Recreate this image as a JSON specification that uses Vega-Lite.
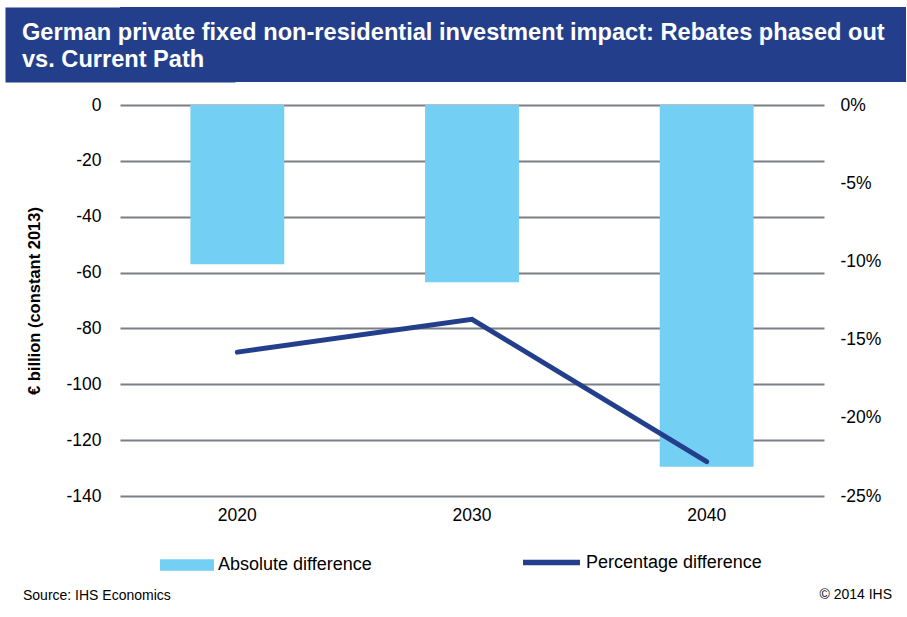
{
  "$schema": "https://vega.github.io/schema/vega-lite/v6.json",
  "background": "white",
  "padding": {"left": 6, "top": 7, "right": 0, "bottom": 0},
  "config": {
    "font": "Liberation Sans",
    "view": {"stroke": null},
    "locale": {"number": {"decimal": ".", "thousands": ",", "grouping": [3], "currency": ["$", ""], "minus": "-"}}
  },
  "title": {"text": "© 2014 IHS", "orient": "bottom", "anchor": "end", "fontSize": 14, "fontWeight": "normal", "color": "#000000", "offset": -15, "dx": -14},
  "spacing": 14,
  "vconcat": [
    {
      "width": 786,
      "height": 75,
      "view": {"fill": "#233F8C", "stroke": null},
      "data": {"values": [{}]},
      "mark": {"type": "rect", "opacity": 0},
      "encoding": {
        "y": {
          "datum": 0,
          "type": "quantitative",
          "scale": {"domain": [0, 1]},
          "axis": {"title": null, "labels": false, "ticks": false, "grid": false, "domainWidth": 230, "domainColor": "#233F8C", "domainCap": "butt"}
        }
      },
      "title": {
        "text": ["German private fixed non-residential investment impact: Rebates phased out", "vs. Current Path"],
        "orient": "top",
        "anchor": "start",
        "frame": "group",
        "baseline": "top",
        "offset": -65,
        "dx": -98,
        "fontSize": 23.6,
        "fontWeight": "bold",
        "color": "#FFFFFF",
        "lineHeight": 27
      }
    },
    {
      "width": 704,
      "height": 391,
      "data": {"values": [
        {"year": "2020", "abs": -57, "pct": -0.158},
        {"year": "2030", "abs": -63.5, "pct": -0.137},
        {"year": "2040", "abs": -129.5, "pct": -0.228}
      ]},
      "title": {"text": "Source: IHS Economics", "orient": "bottom", "anchor": "start", "fontSize": 14, "fontWeight": "normal", "color": "#000000", "offset": 65, "dx": 16},
      "encoding": {
        "x": {
          "field": "year",
          "type": "nominal",
          "scale": {"paddingInner": 0.6, "paddingOuter": 0.3},
          "axis": {"title": null, "labelAngle": 0, "labelFontSize": 17.5, "labelColor": "#000000", "labelPadding": 10, "ticks": false, "domain": false, "grid": false}
        }
      },
      "layer": [
        {
          "mark": {"type": "bar", "color": "#74CFF4"},
          "encoding": {
            "y": {
              "field": "abs",
              "type": "quantitative",
              "scale": {"domain": [-140, 0], "nice": false},
              "axis": {
                "title": ["", "€ billion (constant 2013)"],
                "titleLineHeight": 20,
                "values": [0, -20, -40, -60, -80, -100, -120, -140],
                "grid": true,
                "gridColor": "#7a7f85",
                "gridWidth": 2,
                "domain": false,
                "ticks": false,
                "labelFontSize": 17.5,
                "labelColor": "#000000",
                "labelPadding": 19,
                "titleFontSize": 16.5,
                "titleFontWeight": "bold",
                "titleColor": "#000000",
                "titlePadding": 23
              }
            },
            "color": {
              "datum": "Absolute difference",
              "scale": {"range": ["#74CFF4"]},
              "legend": {
                "orient": "none",
                "legendX": 40,
                "legendY": 531,
                "title": null,
                "symbolType": "M-1,-0.21H1V0.21H-1Z",
                "symbolSize": 2916,
                "symbolStrokeWidth": 0,
                "labelFontSize": 18,
                "labelColor": "#000000",
                "labelOffset": 4,
                "labelLimit": 300
              }
            }
          }
        },
        {
          "mark": {"type": "line", "strokeWidth": 5, "strokeCap": "round"},
          "encoding": {
            "y": {
              "field": "pct",
              "type": "quantitative",
              "scale": {"domain": [-0.25, 0], "nice": false},
              "axis": {
                "orient": "right",
                "format": ".0%",
                "values": [0, -0.05, -0.1, -0.15, -0.2, -0.25],
                "grid": false,
                "domain": false,
                "ticks": false,
                "labelFontSize": 17.5,
                "labelColor": "#000000",
                "labelPadding": 16,
                "title": null
              }
            },
            "stroke": {
              "datum": "Percentage difference",
              "scale": {"range": ["#233F8C"]},
              "legend": {
                "orient": "none",
                "legendX": 400,
                "legendY": 524,
                "title": null,
                "symbolType": "stroke",
                "symbolSize": 3249,
                "symbolStrokeWidth": 5.5,
                "labelFontSize": 18,
                "labelColor": "#000000",
                "labelOffset": 3,
                "labelLimit": 300
              }
            }
          }
        }
      ],
      "resolve": {"scale": {"y": "independent"}}
    }
  ]
}
